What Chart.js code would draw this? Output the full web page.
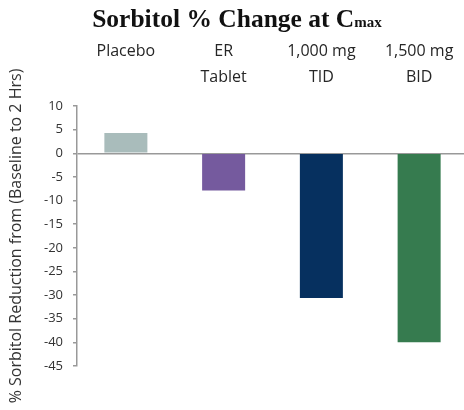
<!DOCTYPE html>
<html>
<head>
<meta charset="utf-8">
<script src="https://cdn.jsdelivr.net/npm/chart.js@4"></script>
<style>
  body { margin: 0; background: #fff; overflow: hidden; }
  #wrap { position: relative; width: 470px; height: 410px; }
  #title {
    position: absolute; left: 0; top: 6px; width: 474px; text-align: center; line-height: 25px;
    font-family: "Liberation Serif", serif; font-weight: bold; font-size: 25.5px; color: #111;
  }
  #title span { font-size: 15px; }
</style>
</head>
<body>
<div id="wrap">
  <div id="title">Sorbitol % Change at C<span>max</span></div>
  <canvas id="chart" width="470" height="410"></canvas>
</div>
<script>
var categories = [['Placebo'], ['ER', 'Tablet'], ['1,000 mg', 'TID'], ['1,500 mg', 'BID']];
var values = [4.3, -7.9, -30.6, -40];
var colors = ['#a9bcbb', '#755a9e', '#06305f', '#367b4f'];
var yMin = -45, yMax = 10, yStep = 5;
var yTitle = '% Sorbitol Reduction from (Baseline to 2 Hrs)';

var ctx = document.getElementById('chart').getContext('2d');
var chart = new Chart(ctx, {
    type: 'bar',
    data: {
        labels: categories,
        datasets: [{
            data: values,
            backgroundColor: colors,
            barPercentage: 0.44,
            categoryPercentage: 1
        }]
    },
    options: {
        responsive: false,
        animation: false,
        layout: { padding: { left: 0, right: 2, top: 30, bottom: 44 } },
        plugins: { legend: { display: false }, tooltip: { enabled: false } },
        scales: {
            x: {
                position: 'top',
                grid: { display: false },
                border: { display: false },
                ticks: {
                    color: '#262626',
                    crossAlign: 'far',
                    padding: 8,
                    maxRotation: 0,
                    font: { family: 'Open Sans', size: 16, lineHeight: 1.6 }
                },
                afterFit: function(scale) { scale.height = 76; }
            },
            y: {
                min: yMin,
                max: yMax,
                border: { color: '#999', width: 1.5 },
                grid: {
                    color: function(c) { return c.tick && c.tick.value === 0 ? '#999' : 'rgba(0,0,0,0)'; },
                    lineWidth: 1.5,
                    tickColor: '#999',
                    tickLength: 4
                },
                ticks: {
                    stepSize: yStep,
                    color: '#333',
                    padding: 10,
                    font: { family: 'Open Sans', size: 13 }
                },
                title: {
                    display: true,
                    text: yTitle,
                    color: '#333',
                    padding: { top: 7 },
                    font: { family: 'Open Sans', size: 16 }
                },
                afterFit: function(scale) { scale.width = 77; }
            }
        }
    }
});
</script>
</body>
</html>
